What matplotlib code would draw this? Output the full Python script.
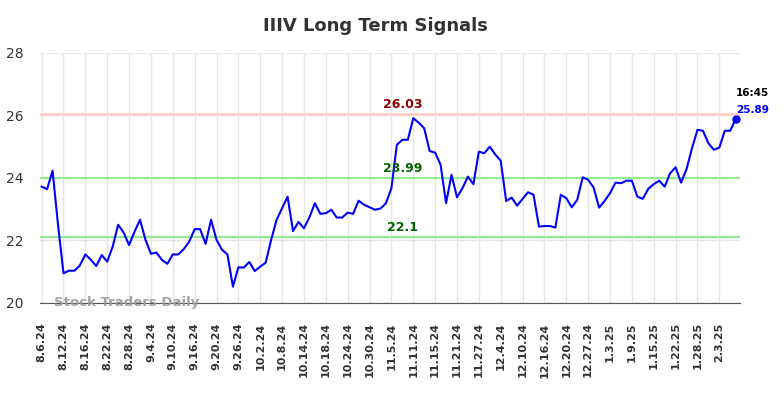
import matplotlib
matplotlib.use("Agg")
import matplotlib.pyplot as plt

# Datos del gráfico
precios = [
    23.72, 23.64, 24.23, 22.50, 20.95, 21.03, 21.03, 21.20, 21.55, 21.38,
    21.18, 21.53, 21.32, 21.80, 22.50, 22.25, 21.85, 22.28, 22.66, 22.02,
    21.57, 21.61, 21.38, 21.25, 21.55, 21.55, 21.72, 21.96, 22.36, 22.36,
    21.89, 22.66, 22.02, 21.70, 21.55, 20.52, 21.14, 21.13, 21.31, 21.02,
    21.16, 21.29, 22.02, 22.66, 23.03, 23.40, 22.30, 22.59, 22.39, 22.74,
    23.19, 22.85, 22.87, 22.98, 22.73, 22.73, 22.89, 22.85, 23.27, 23.14,
    23.06, 22.98, 23.02, 23.19, 23.67, 25.06, 25.22, 25.22, 25.91, 25.77,
    25.59, 24.86, 24.81, 24.42, 23.19, 24.10, 23.38, 23.67, 24.04, 23.80,
    24.84, 24.79, 25.00, 24.75, 24.55, 23.26, 23.37, 23.11, 23.33, 23.54,
    23.46, 22.44, 22.46, 22.46, 22.41, 23.46, 23.35, 23.06, 23.30, 24.02,
    23.94, 23.69, 23.05, 23.26, 23.51, 23.85, 23.83, 23.91, 23.91, 23.40,
    23.33, 23.65, 23.80, 23.91, 23.72, 24.15, 24.34, 23.85, 24.28, 24.95,
    25.54, 25.51, 25.11, 24.90, 24.97, 25.51, 25.51, 25.89,
]

etiquetas = [
    "8.6.24", "8.12.24", "8.16.24", "8.22.24", "8.28.24", "9.4.24",
    "9.10.24", "9.16.24", "9.20.24", "9.26.24", "10.2.24", "10.8.24",
    "10.14.24", "10.18.24", "10.24.24", "10.30.24", "11.5.24", "11.11.24",
    "11.15.24", "11.21.24", "11.27.24", "12.4.24", "12.10.24", "12.16.24",
    "12.20.24", "12.27.24", "1.3.25", "1.9.25", "1.15.25", "1.22.25",
    "1.28.25", "2.3.25",
]
paso_etiquetas = 4

resistencia = 26.03
soporte_alto = 23.99
soporte_bajo = 22.1
hora_final = "16:45"

x = list(range(len(precios)))
posiciones = [i * paso_etiquetas for i in range(len(etiquetas))]

fig = plt.figure(figsize=(7.84, 3.98), dpi=100)
ax = fig.add_axes([0.051, 0.239, 0.893, 0.628])

ax.axhline(resistencia, color="#ffcccc", linewidth=2, zorder=1)
ax.axhline(soporte_alto, color="#90ee90", linewidth=1.5, zorder=1)
ax.axhline(soporte_bajo, color="#90ee90", linewidth=1.5, zorder=1)

ax.plot(x, precios, color="blue", linewidth=1.5, zorder=3)
ax.plot(x[-1], precios[-1], "o", color="blue", markersize=5, zorder=4)

# Etiquetas de niveles
xm = 66
ax.text(xm, resistencia + 0.1, f"{resistencia:.2f}", color="#8b0000",
        fontsize=9, fontweight="bold", ha="center", va="bottom")
ax.text(xm, soporte_alto + 0.1, f"{soporte_alto:.2f}", color="#006400",
        fontsize=9, fontweight="bold", ha="center", va="bottom")
ax.text(xm, soporte_bajo + 0.1, f"{soporte_bajo}", color="#006400",
        fontsize=9, fontweight="bold", ha="center", va="bottom")

ax.annotate(hora_final, (x[-1], precios[-1]), xytext=(0, 15),
            textcoords="offset points", fontsize=7.5, fontweight="bold",
            color="black", ha="left", va="bottom")
ax.annotate(f"{precios[-1]:.2f}", (x[-1], precios[-1]), xytext=(0, 3),
            textcoords="offset points", fontsize=7.5, fontweight="bold",
            color="blue", ha="left", va="bottom")

ax.text(2.2, 20.0, "Stock Traders Daily", color="#999999", fontsize=9.5,
        fontweight="bold", ha="left", va="center", alpha=0.9)

ax.set_xlim(-0.3, 127.8)
ax.set_ylim(20, 28)
ax.set_yticks([20, 22, 24, 26, 28])
ax.set_xticks(posiciones)
ax.set_xticklabels(etiquetas, rotation=90, fontsize=8, fontweight="bold",
                   color="#333333")
ax.tick_params(axis="y", labelsize=10, colors="#333333", length=0, pad=12)
ax.tick_params(axis="x", length=0, pad=14)

ax.grid(True, color="#e6e6e6", linewidth=1)
ax.set_axisbelow(True)
for lado in ["top", "right", "left"]:
    ax.spines[lado].set_visible(False)
ax.spines["bottom"].set_color("#555555")

fig.text(375 / 784, 1 - 26 / 398, "IIIV Long Term Signals", fontsize=13,
         fontweight="bold", color="#333333", ha="center", va="center")

fig.savefig("out.png", dpi=100)
